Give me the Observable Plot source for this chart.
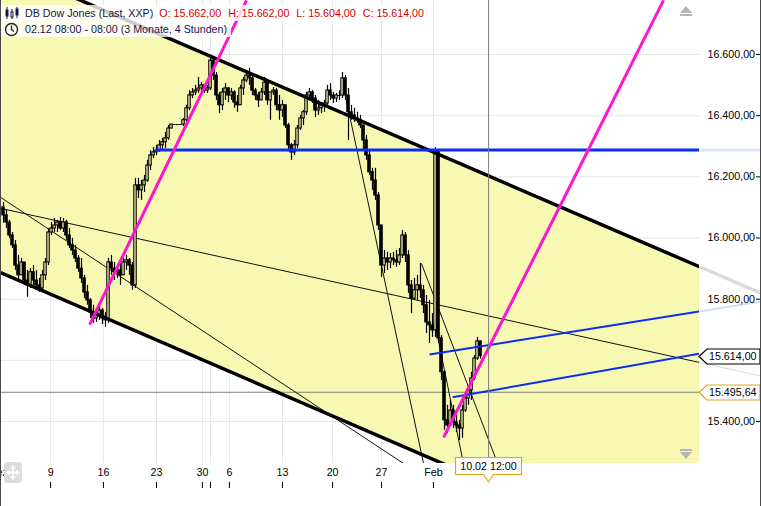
<!DOCTYPE html>
<html><head><meta charset="utf-8">
<script src="https://cdn.jsdelivr.net/npm/d3@7"></script>
<script src="https://cdn.jsdelivr.net/npm/@observablehq/plot@0.6"></script>
<style>
html,body{margin:0;padding:0;background:#fff;}
#wrap{position:relative;width:761px;height:506px;overflow:hidden;font-family:"Liberation Sans",Arial,sans-serif;}
#chart svg{display:block}
.tl{position:absolute;left:0;height:16px;line-height:16px;font-size:10.7px;background:rgba(255,255,255,0.8);padding-left:25px;padding-right:4px;white-space:nowrap;color:#141450;}
.tl .red{color:#d40000;margin-left:7px}
.tl .red.first{margin-left:6px}
.tl svg{position:absolute;left:4px;top:1px}
.bord{position:absolute;top:0;width:1px;height:506px;background:#4a4a4a}
</style></head><body>
<div id="wrap"><div id="chart"></div></div>
<script>
// ---- data ----
const instrument = "DB Dow Jones (Last, XXP)";
const period = "02.12 08:00 - 08:00 (3 Monate, 4 Stunden)";
const cursorLabel = "10.02 12:00";
const firstOpen = 16100;
const highs = [16116,16090,16058,16018,15992,15943,15933,15920,15894,15900,15910,15894,15868,15894,15933,16031,16051,16064,16058,16067,
16064,16058,16031,15999,15976,15943,15933,15878,15845,15802,15780,15770,15780,15770,15757,15933,15943,15920,15910,15920,
15933,15943,15933,15920,16195,16195,16188,16205,16254,16286,16296,16303,16319,16326,16345,16368,16371,16371,16371,16371,
16391,16434,16482,16489,16499,16525,16508,16502,16499,16597,16590,16541,16476,16489,16505,16492,16489,16482,16466,16499,
16525,16548,16554,16538,16489,16476,16489,16525,16515,16466,16492,16489,16466,16450,16434,16375,16309,16319,16368,16401,
16417,16476,16489,16482,16466,16450,16443,16450,16499,16505,16476,16473,16482,16541,16531,16489,16434,16424,16411,16401,
16368,16335,16286,16228,16228,16149,16031,15959,15953,15949,15953,15959,15966,16025,16018,15959,15861,15868,15878,15917,
15845,15812,15796,15753,16296,16286,15681,15567,15453,15469,15453,15420,15404,15453,15495,15518,15561,15616,15675,15662];
const lows = [16048,16031,15999,15966,15894,15855,15878,15845,15806,15835,15845,15829,15822,15829,15861,15910,16008,16018,16018,16025,
16018,15992,15966,15943,15920,15888,15852,15802,15780,15737,15721,15724,15731,15717,15708,15721,15878,15861,15868,15845,
15878,15894,15878,15829,15835,16129,16123,16149,16182,16221,16260,16270,16280,16286,16293,16319,16358,16371,16371,16371,
16365,16378,16417,16456,16466,16473,16466,16473,16473,16482,16515,16450,16407,16417,16450,16443,16450,16424,16411,16434,
16466,16508,16499,16466,16450,16427,16450,16466,16434,16385,16466,16417,16385,16394,16358,16286,16254,16270,16293,16352,
16368,16401,16450,16440,16394,16401,16407,16411,16434,16450,16440,16443,16450,16456,16450,16319,16385,16378,16375,16358,
16286,16254,16205,16156,16123,16025,15871,15884,15894,15900,15910,15904,15910,15933,15920,15819,15753,15796,15796,15802,
15753,15688,15655,15675,15675,15655,15534,15371,15361,15387,15377,15364,15338,15345,15430,15453,15469,15534,15600,15604];
const closes = [16074,16051,16008,15976,15910,15878,15920,15861,15845,15888,15861,15845,15835,15878,15920,16018,16031,16041,16051,16031,
16051,16008,15976,15959,15933,15900,15868,15822,15796,15757,15737,15747,15763,15737,15731,15920,15900,15888,15894,15878,
15920,15927,15910,15845,16172,16156,16172,16188,16237,16270,16280,16286,16303,16313,16326,16358,16371,16371,16371,16371,
16385,16424,16466,16476,16482,16489,16499,16482,16489,16580,16531,16466,16434,16476,16489,16466,16476,16443,16434,16489,
16515,16531,16522,16482,16466,16450,16476,16508,16450,16476,16482,16434,16417,16434,16368,16303,16280,16303,16358,16391,
16411,16466,16476,16456,16417,16424,16434,16440,16482,16466,16456,16466,16466,16522,16466,16411,16401,16391,16385,16368,
16319,16270,16215,16188,16139,16041,15910,15933,15920,15933,15927,15920,15943,16008,15943,15845,15802,15829,15845,15829,
15780,15724,15714,15698,16286,15672,15561,15404,15387,15436,15397,15387,15377,15436,15475,15502,15541,15606,15662,15614];

const dateTicks = [-0.7, 16.7, 34.3, 52, 67.3, 70, 76.3, 94, 110.7, 127, 144.3];
const dateLabels = ["Dez", "9", "16", "23", "30", "", "6", "13", "20", "27", "Feb"];
const priceTicks = [15400, 15600, 15800, 16000, 16200, 16400, 16600];
const priceLabelTicks = [15400, 15800, 16000, 16200, 16400, 16600]; // 15.600 is hidden behind the last-price tag

// drawing tools: [x1 (bar), price1, x2 (bar), price2]
const channelUpper = [0, 16890, 233, 15906];
const channelLower = [0, 15887, 233, 14900];
const blueLevel = [51.7, 16288, 233, 16288];
const blueRays = [[143, 15619, 233, 15760], [150.7, 15479, 233, 15622]];
const magentaLines = [[29.7, 15717, 82, 16777], [147.7, 15348, 221, 16777]];
const thinLines = [[0, 16097, 233, 15593], [0, 16133, 134.3, 15263], [115.3, 16450, 141, 15263], [140.3, 15917, 165.7, 15263], [145.3, 15698, 154.3, 15263]];
const cursorBar = 162.7;
const cursorPrice = 15495.64;

// ---- build ----
const YEL = "#f7f8b2";
const fmt = d3.formatLocale({decimal: ",", thousands: ".", grouping: [3], currency: ["", ""]}).format(",.2f");
const bars = closes.map((c, k) => {
  const o = k === 0 ? firstOpen : closes[k - 1];
  return {i: k + 1, open: o, close: c, high: Math.max(highs[k], o, c), low: Math.min(lows[k], o, c)};
});
const last = bars[bars.length - 1];
const ups = bars.filter(d => d.close > d.open);
const downs = bars.filter(d => d.close < d.open);
const dojis = bars.filter(d => d.close === d.open);
const channel = [{x: channelUpper[0], hi: channelUpper[1], lo: channelLower[1]}, {x: channelUpper[2], hi: channelUpper[3], lo: channelLower[3]}];
const at = (s, x) => s[1] + (s[3] - s[1]) * (x - s[0]) / (s[2] - s[0]);
const XMAX = 233, XEDGE = 253.7;
const ext = s => [s[2], s[3], XEDGE, at(s, XEDGE)];
const L = {x1: d => d[0], y1: d => d[1], x2: d => d[2], y2: d => d[3]};

const chart = Plot.plot({
  width: 761, height: 506,
  marginLeft: 0, marginRight: 62, marginTop: 0, marginBottom: 43,
  x: {domain: [0, XMAX], axis: null},
  y: {domain: [15262.7, 16776.6], axis: null},
  style: {fontFamily: "Liberation Sans, Arial, sans-serif", fontSize: "10.7px", background: "white", color: "#000"},
  marks: [
    Plot.ruleY(priceTicks, {stroke: "#e6e6e6"}),
    Plot.ruleX(dateTicks.slice(1), {stroke: "#e6e6e6"}),
    Plot.areaY(channel, {x: "x", y1: "lo", y2: "hi", fill: YEL, clip: true}),
    Plot.ruleY([cursorPrice], {stroke: "#7c7c7c"}),
    Plot.link(thinLines, {...L, stroke: "#111", strokeWidth: 1, clip: true}),
    // faint continuation in the axis area
    Plot.link([ext(channelUpper)], {...L, stroke: "#dadada", strokeWidth: 3.5}),
    Plot.link([ext(blueLevel)], {...L, stroke: "#dde5ff", strokeWidth: 3}),
    Plot.link([ext(blueRays[0])], {...L, stroke: "#d3ddff", strokeWidth: 2}),
    Plot.link([ext(thinLines[0])], {...L, stroke: "#d8d8d8", strokeWidth: 1}),
    // candles
    Plot.ruleX(bars, {x: "i", y1: "low", y2: "high", stroke: "#000", strokeWidth: 1.2}),
    Plot.rect(ups, {x1: d => d.i - 0.4, x2: d => d.i + 0.4, y1: "open", y2: "close", fill: YEL, stroke: "#000", strokeWidth: 1.1}),
    Plot.rect(downs, {x1: d => d.i - 0.4, x2: d => d.i + 0.4, y1: "open", y2: "close", fill: "#000", stroke: "#000", strokeWidth: 1.1}),
    Plot.ruleY(dojis, {y: "close", x1: d => d.i - 0.5, x2: d => d.i + 0.5, stroke: "#000"}),
    // drawings
    Plot.link([channelUpper, channelLower], {...L, stroke: "#000", strokeWidth: 3.5, clip: true}),
    Plot.link([blueLevel], {...L, stroke: "#0a2cf5", strokeWidth: 3, clip: true}),
    Plot.link(blueRays, {...L, stroke: "#0a2cf5", strokeWidth: 2, clip: true}),
    Plot.link(magentaLines, {...L, stroke: "#ff14d0", strokeWidth: 3, clip: true}),
    Plot.ruleX([cursorBar], {stroke: "#7c7c7c"}),
    // axes
    Plot.axisY({anchor: "right", ticks: priceLabelTicks, tickSize: 0, tickPadding: 8, tickFormat: fmt}),
    Plot.axisY({anchor: "right", ticks: priceTicks, tickSize: 4, tickFormat: () => "", dx: 56}),
    Plot.text(d3.range(dateTicks.length), {x: k => dateTicks[k], text: k => dateLabels[k], frameAnchor: "bottom", dy: 12}),
    Plot.axisX({anchor: "bottom", ticks: dateTicks.slice(1), tickSize: 6, tickFormat: () => "", dy: 19})
  ]
});
document.getElementById("chart").append(chart);

const sx = chart.scale("x"), sy = chart.scale("y");
const svg = d3.select(chart);
const right = sx.apply(XMAX);
function tag(price, label, color) {
  const py = Math.round(sy.apply(price)) + 0.5;
  svg.append("path").attr("d", `M${right},${py} L${right + 8},${py - 7.5} H760 V${py + 7.5} H${right + 8} Z`)
    .attr("fill", "#fff").attr("stroke", color).attr("stroke-width", 1.2);
  svg.append("text").attr("x", right + 10).attr("y", py).attr("dy", "0.35em").attr("text-anchor", "start")
    .attr("font-size", "10.7px").attr("fill", "#000").text(label);
}
tag(last.close, fmt(last.close), "#000");
tag(cursorPrice, fmt(cursorPrice), "#e2a41c");
// cursor time label
const cx = Math.round(sx.apply(cursorBar)) + 0.5;
svg.append("path").attr("d", `M${cx - 33},457.5 H${cx + 33} V474.5 H${cx + 5} L${cx},482 L${cx - 5},474.5 H${cx - 33} Z`)
  .attr("fill", "#fff").attr("stroke", "#e2a41c").attr("stroke-width", 1.2);
svg.append("text").attr("x", cx).attr("y", 466).attr("dy", "0.35em").attr("text-anchor", "middle").attr("font-size", "10.7px").text(cursorLabel);
// scroll icons
const g1 = svg.append("g").attr("fill", "#b4b4b4");
g1.append("path").attr("d", "M680,13 L686,6 L692,13 Z");
g1.append("rect").attr("x", 680).attr("y", 14).attr("width", 12).attr("height", 2);
g1.append("rect").attr("x", 680).attr("y", 449).attr("width", 12).attr("height", 2);
g1.append("path").attr("d", "M680,452 L686,459 L692,452 Z");
// move icon
const g2 = svg.append("g");
g2.append("rect").attr("x", 4).attr("y", 462).attr("width", 18).attr("height", 21).attr("rx", 3).attr("fill", "#dcdcdc");
g2.append("path").attr("d", "M13,465 L16,469 H14 V471.5 H16.5 V469.5 L20,472.5 L16.5,475.5 V473.5 H14 V476 H16 L13,480 L10,476 H12 V473.5 H9.5 V475.5 L6,472.5 L9.5,469.5 V471.5 H12 V469 H10 Z").attr("fill", "#fff");

// title overlay
const wrap = document.getElementById("wrap");
const t1 = document.createElement("div");
t1.className = "tl"; t1.style.top = "5px";
t1.innerHTML = `<svg width="16" height="14" viewBox="0 0 16 14"><g stroke="#141450" fill="#141450"><line x1="3" y1="1" x2="3" y2="13"/><rect x="2" y="4" width="2" height="6"/><line x1="8" y1="3" x2="8" y2="13"/><rect x="7" y="6" width="2" height="5" fill="#fff"/><line x1="13" y1="1" x2="13" y2="12"/><rect x="12" y="3" width="2" height="6"/></g></svg>`
  + `<span>${instrument}</span><span class="red first">O: ${fmt(last.open)}</span><span class="red">H: ${fmt(last.high)}</span><span class="red">L: ${fmt(last.low)}</span><span class="red">C: ${fmt(last.close)}</span>`;
wrap.append(t1);
const t2 = document.createElement("div");
t2.className = "tl"; t2.style.top = "21px";
t2.innerHTML = `<svg width="16" height="15" viewBox="0 0 16 15"><circle cx="7.5" cy="7.5" r="6" fill="none" stroke="#222" stroke-width="1.4"/><path d="M7.5,3.5 V7.5 L10,9.5" fill="none" stroke="#222" stroke-width="1.4"/></svg><span>${period}</span>`;
wrap.append(t2);
for (const x of [0, 760]) { const b = document.createElement("div"); b.className = "bord"; b.style.left = x + "px"; wrap.append(b); }
</script>
</body></html>
